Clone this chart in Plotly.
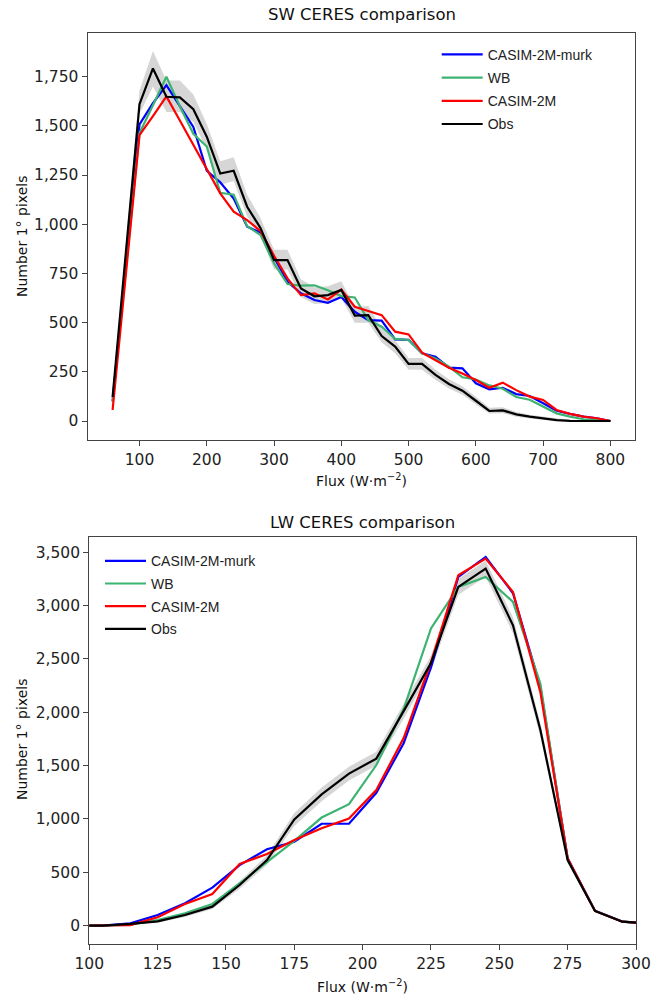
import plotly.graph_objects as go

# ---------------- SW data ----------------
sw_flux = [60, 80, 100, 120, 140, 160, 180, 200, 220, 240, 260, 280, 300, 320, 340, 360, 380, 400, 420,
           440, 460, 480, 500, 520, 540, 560, 580, 600, 620, 640, 660, 680, 700, 720, 740, 760, 780, 800]
sw_murk = [100, 810, 1508, 1615, 1707, 1600, 1495, 1272, 1213, 1131, 988, 957, 835, 708, 649, 615, 601, 630, 555,
           513, 510, 415, 412, 344, 327, 271, 268, 192, 161, 169, 137, 127, 90, 52, 36, 22, 14, 0]
sw_wb = [100, 790, 1463, 1605, 1750, 1600, 1460, 1395, 1160, 1150, 990, 945, 801, 696, 688, 690, 665, 635, 628,
         513, 479, 417, 412, 344, 318, 276, 222, 211, 181, 164, 122, 108, 73, 39, 22, 9, 5, 0]
sw_2m = [56, 755, 1453, 1550, 1650, 1527, 1404, 1280, 1157, 1064, 1021, 965, 840, 725, 640, 649, 618, 668, 581,
         559, 538, 454, 440, 347, 310, 271, 242, 208, 169, 195, 157, 124, 107, 56, 36, 22, 14, 0]
sw_obs = [122, 880, 1610, 1792, 1648, 1645, 1585, 1445, 1258, 1272, 1089, 980, 818, 818, 674, 634, 640, 666, 536,
          538, 432, 378, 290, 290, 234, 188, 154, 103, 51, 54, 34, 22, 14, 5, 1, 0, 0, 0]
sw_obs_lo = [110, 850, 1560, 1700, 1570, 1570, 1520, 1380, 1200, 1220, 1040, 940, 770, 770, 630, 595, 600, 625, 500,
             500, 400, 345, 260, 260, 210, 165, 133, 85, 38, 40, 22, 13, 7, 0, 0, 0, 0, 0]
sw_obs_hi = [135, 910, 1680, 1880, 1730, 1730, 1660, 1510, 1320, 1340, 1150, 1030, 870, 870, 720, 680, 685, 710, 580,
             585, 470, 410, 320, 320, 260, 212, 177, 123, 68, 70, 46, 32, 22, 12, 5, 3, 2, 1]

# ---------------- LW data ----------------
lw_flux = [95, 105, 115, 125, 135, 145, 155, 165, 175, 185, 195, 205, 215, 225, 235, 245, 255, 265, 275, 285, 295, 305]
lw_murk = [0, 0, 22, 100, 210, 356, 568, 716, 786, 955, 955, 1245, 1710, 2420, 3268, 3455, 3115, 2238, 630, 140, 38, 20]
lw_wb = [0, 0, 10, 53, 116, 203, 397, 600, 795, 1013, 1138, 1505, 2030, 2785, 3174, 3268, 3034, 2270, 620, 138, 37, 20]
lw_2m = [0, 0, 5, 79, 203, 297, 578, 671, 802, 912, 1003, 1271, 1758, 2470, 3283, 3440, 3127, 2191, 631, 138, 37, 20]
lw_obs = [0, 0, 16, 40, 100, 178, 381, 615, 995, 1230, 1425, 1565, 2010, 2460, 3174, 3346, 2815, 1835, 615, 138, 37, 20]
lw_obs_lo = [0, 0, 8, 28, 82, 155, 345, 570, 935, 1165, 1360, 1500, 1940, 2390, 3100, 3270, 2740, 1770, 585, 125, 30, 15]
lw_obs_hi = [0, 5, 24, 52, 118, 200, 415, 660, 1055, 1295, 1490, 1630, 2080, 2530, 3250, 3420, 2890, 1900, 645, 150, 45, 25]

series_names = ["CASIM-2M-murk", "WB", "CASIM-2M", "Obs"]
series_colors = ["#0000ff", "#3cb371", "#ff0000", "#000000"]
band_color = "rgba(200,200,200,0.75)"

W, H = 651, 996
M = 10          # fixed left/right margin
OFF = 0         # page body offset (body margin removed below)
P = W - 2 * M


def px(X):
    return (X - OFF - M) / P


def py(Y):
    return 1 - (Y - OFF) / H


fig = go.Figure()


def add_panel(xs, ys_list, lo, hi, xa, ya, legend, tag):
    fig.add_trace(go.Scatter(x=xs, y=lo, mode="lines", line=dict(width=0, color=band_color),
                             hoverinfo="skip", showlegend=False, xaxis=xa, yaxis=ya, legend=legend))
    fig.add_trace(go.Scatter(x=xs, y=hi, mode="lines", line=dict(width=0, color=band_color),
                             fill="tonexty", fillcolor=band_color, hoverinfo="skip",
                             showlegend=False, xaxis=xa, yaxis=ya, legend=legend))
    for name, ys, col in zip(series_names, ys_list, series_colors):
        fig.add_trace(go.Scatter(x=xs, y=ys, mode="lines", name=name,
                                 line=dict(color=col, width=2.2), xaxis=xa, yaxis=ya,
                                 legend=legend, legendgroup=tag + name))


add_panel(sw_flux, [sw_murk, sw_wb, sw_2m, sw_obs], sw_obs_lo, sw_obs_hi, "x", "y", "legend", "sw")
add_panel(lw_flux, [lw_murk, lw_wb, lw_2m, lw_obs], lw_obs_lo, lw_obs_hi, "x2", "y2", "legend2", "lw")

tickfont = dict(family="DejaVu Sans", size=15.5, color="#222")
axline = dict(showline=True, linecolor="#444", linewidth=1.3, mirror=True, ticks="outside",
              ticklen=5, tickcolor="#444", tickwidth=1.2, showgrid=False, zeroline=False,
              tickfont=tickfont)

legend_font = dict(family="Liberation Sans", size=14, color="#222")
legend_common = dict(xanchor="left", yanchor="top", bgcolor="rgba(255,255,255,0)", font=legend_font,
                     traceorder="grouped", itemwidth=41)

fig.update_layout(
    width=W, height=H,
    margin=dict(l=M, r=M, t=0, b=0, autoexpand=False),
    paper_bgcolor="white", plot_bgcolor="white",
    xaxis=dict(domain=[px(87.7), px(635.3)], range=[23, 837], tickvals=[100, 200, 300, 400, 500, 600, 700, 800],
               anchor="y", **axline),
    yaxis=dict(domain=[py(440), py(33.3)], range=[-96.5, 1970.5], tickvals=[0, 250, 500, 750, 1000, 1250, 1500, 1750],
               tickformat=",d", anchor="x", **axline),
    xaxis2=dict(domain=[px(89.3), px(636)], range=[100, 300], tickvals=[100, 125, 150, 175, 200, 225, 250, 275, 300],
                anchor="y2", **axline),
    yaxis2=dict(domain=[py(944), py(536.7)], range=[-172, 3645], tickvals=[0, 500, 1000, 1500, 2000, 2500, 3000, 3500],
                tickformat=",d", anchor="x2", **axline),
    legend=dict(x=px(436.7), y=py(38.8), tracegroupgap=2, **legend_common),
    legend2=dict(x=px(100), y=py(545.2), tracegroupgap=1.5, **legend_common),
    showlegend=True,
)

title_font = dict(family="DejaVu Sans", size=16.5, color="#111")
label_font = dict(family="DejaVu Sans", size=14, color="#111")
annots = [
    dict(text="SW CERES comparison", x=px(361.5), y=py(15), font=title_font),
    dict(text="LW CERES comparison", x=px(362.6), y=py(522), font=title_font),
    dict(text="Flux (W·m<sup>−2</sup>)", x=px(361.5), y=py(480), font=label_font),
    dict(text="Flux (W·m<sup>−2</sup>)", x=px(362.6), y=py(986), font=label_font),
    dict(text="Number 1° pixels", x=px(22), y=py(237), font=label_font, textangle=-90),
    dict(text="Number 1° pixels", x=px(22), y=py(740), font=label_font, textangle=-90),
]
for a in annots:
    fig.add_annotation(xref="paper", yref="paper", xanchor="center", yanchor="middle", showarrow=False, **a)

fig.write_html(
    "out.html",
    config={"displayModeBar": False},
    post_script="document.body.style.margin='0px';document.documentElement.style.overflow='hidden';",
)
